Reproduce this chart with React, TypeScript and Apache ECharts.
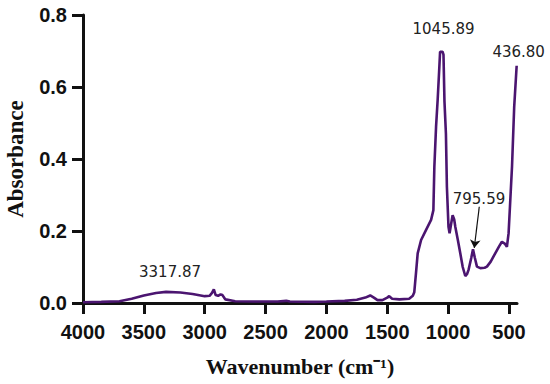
import React, { useEffect, useRef } from "react";
import * as echarts from "echarts";

const wavenumbers = [
  4000, 3850, 3700, 3600, 3500, 3400, 3317.87, 3200, 3100, 3000, 2960, 2940, 2925, 2910, 2890, 2870, 2855, 2830, 2750,
  2600, 2400, 2330, 2300, 2100, 2000, 1850, 1750, 1680, 1640, 1610, 1580, 1540, 1500, 1484, 1460, 1400, 1320, 1290,
  1278, 1264, 1250, 1222, 1181, 1140, 1121, 1113, 1099, 1086, 1072, 1066, 1045.89, 1038, 1030, 1018, 1010, 997, 988,
  975, 963, 950, 941, 920, 900, 880, 859, 845, 832, 810, 795.59, 780, 763, 736, 700, 681, 650, 613, 580, 558, 535, 517,
  503, 490, 475, 457, 436.8,
];
const absorbance = [
  0.002, 0.003, 0.005, 0.012, 0.021, 0.028, 0.031, 0.029, 0.025, 0.019, 0.02, 0.028, 0.038, 0.022, 0.02, 0.024, 0.022,
  0.01, 0.005, 0.004, 0.004, 0.006, 0.004, 0.003, 0.004, 0.006, 0.009, 0.015, 0.021, 0.015, 0.008, 0.008, 0.015, 0.019,
  0.012, 0.01, 0.012, 0.02, 0.03, 0.083, 0.138, 0.175, 0.203, 0.231, 0.258, 0.379, 0.49, 0.564, 0.656, 0.698, 0.698,
  0.69, 0.56, 0.47, 0.323, 0.212, 0.194, 0.22, 0.244, 0.232, 0.212, 0.175, 0.138, 0.1, 0.075, 0.08, 0.092, 0.125, 0.149,
  0.125, 0.101, 0.097, 0.098, 0.101, 0.115, 0.138, 0.158, 0.17, 0.165, 0.156, 0.194, 0.28, 0.379, 0.545, 0.659,
];
const xTicks = [4000, 3500, 3000, 2500, 2000, 1500, 1000, 500];
const peakLabels = ["3317.87", "1045.89", "795.59", "436.80"];
const peakValues = [0.031, 0.698, 0.149, 0.659];

export default function App() {
  const ref = useRef<HTMLDivElement>(null);
  useEffect(() => {
    document.body.style.margin = "0";
    if (!ref.current) return;
    const chart = echarts.init(ref.current, undefined, { renderer: "svg" });
    const data = wavenumbers.map((w, i) => [w, absorbance[i]]);
    const offsets = [
      [4, -20],
      [1, -23],
      [6, -50],
      [2, -14],
    ];
    chart.setOption({
      animation: false,
      grid: { left: 83, right: 33, top: 15, bottom: 81, containLabel: false, outerBoundsMode: "none" },
      xAxis: {
        type: "value",
        inverse: true,
        min: 434,
        max: 4000,
        name: "Wavenumber (cm⁻¹)",
        nameLocation: "middle",
        nameGap: 52,
        nameTextStyle: { fontFamily: "Liberation Serif", fontWeight: "bold", fontSize: 22, color: "#111" },
        splitLine: { show: false },
        axisLine: { lineStyle: { color: "#111", width: 3 } },
        axisTick: { show: true, customValues: xTicks, length: 11, lineStyle: { color: "#111", width: 3 } },
        axisLabel: {
          customValues: xTicks,
          formatter: (v: number) => String(v),
          margin: 19,
          fontFamily: "Liberation Sans",
          fontWeight: "bold",
          fontSize: 20,
          color: "#111",
        },
      },
      yAxis: {
        type: "value",
        min: 0,
        max: 0.8,
        interval: 0.2,
        name: "Absorbance",
        nameLocation: "middle",
        nameGap: 56,
        nameTextStyle: { fontFamily: "Liberation Serif", fontWeight: "bold", fontSize: 23, color: "#111" },
        splitLine: { show: false },
        axisLine: { show: true, lineStyle: { color: "#111", width: 3 } },
        axisTick: { show: true, length: 11, lineStyle: { color: "#111", width: 3 } },
        axisLabel: {
          margin: 16,
          formatter: (v: number) => v.toFixed(1),
          fontFamily: "Liberation Sans",
          fontWeight: "bold",
          fontSize: 20,
          color: "#111",
        },
      },
      series: [
        {
          type: "line",
          data,
          showSymbol: false,
          lineStyle: { color: "#4B1570", width: 2.6 },
          markPoint: {
            symbol: "circle",
            symbolSize: 0,
            data: peakLabels.map((l, i) => ({
              coord: [parseFloat(l), peakValues[i]],
              label: {
                show: true,
                formatter: l,
                position: "inside",
                offset: offsets[i],
                fontFamily: "DejaVu Sans",
                fontSize: 15,
                color: "#222",
              },
            })),
          },
          markLine: {
            symbol: ["none", "arrow"],
            symbolSize: 8,
            silent: true,
            label: { show: false },
            lineStyle: { color: "#111", width: 1.2, type: "solid" },
            data: [[{ coord: [744, 0.2675] }, { coord: [785, 0.153] }]],
          },
        },
      ],
    });
    return () => chart.dispose();
  }, []);
  return <div ref={ref} style={{ width: 550, height: 384 }} />;
}
